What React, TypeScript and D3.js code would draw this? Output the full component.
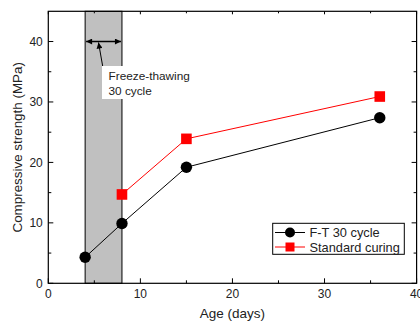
import React from "react";
import * as d3 from "d3";

const ftAge = [4, 8, 15, 36];
const ftStrength = [4.3, 9.9, 19.2, 27.4];
const stdAge = [8, 15, 36];
const stdStrength = [14.7, 23.9, 30.9];
const xTicks = [0, 10, 20, 30, 40];
const yTicks = [0, 10, 20, 30, 40];
const xMinor = [5, 15, 25, 35];
const yMinor = [5, 15, 25, 35];
const shadeRange = [4, 8];
const annotY = 40;
const seriesNames = ["F-T 30 cycle", "Standard curing"];
const annotLines = ["Freeze-thawing", "30 cycle"];

export default function App() {
  const W = 420, H = 321;
  const L = 48.3, R = 416.6, T = 11.3, B = 283.3;
  const x = d3.scaleLinear().domain([0, 40]).range([L, R]);
  const y = d3.scaleLinear().domain([0, 45]).range([B, T]);
  const line = d3.line<[number, number]>().x(d => x(d[0])).y(d => y(d[1]));
  const ft: [number, number][] = ftAge.map((a, i) => [a, ftStrength[i]]);
  const sd: [number, number][] = stdAge.map((a, i) => [a, stdStrength[i]]);
  const font = "Liberation Sans, Arial, sans-serif";
  const ay = y(annotY);
  const x0 = x(shadeRange[0]), x1 = x(shadeRange[1]);
  return (
    <svg width={W} height={H} style={{ position: "absolute", left: 0, top: 0 }} fontFamily={font}>
      <defs>
        <marker id="ah" viewBox="0 0 10 10" refX="10" refY="5" markerWidth="7" markerHeight="6" orient="auto-start-reverse" markerUnits="userSpaceOnUse">
          <path d="M0,0 L10,5 L0,10 z" fill="#000" />
        </marker>
      </defs>
      <rect x={0} y={0} width={W} height={H} fill="#fff" />
      <rect x={x0} y={T} width={x1 - x0} height={B - T} fill="#c0c0c0" stroke="#000" strokeWidth={1} />
      {/* double arrow */}
      <line x1={x0 + 1} x2={x1 - 1} y1={ay} y2={ay} stroke="#000" strokeWidth={1.5} markerStart="url(#ah)" markerEnd="url(#ah)" />
      <line x1={103} y1={68} x2={98.5} y2={ay + 1} stroke="#000" strokeWidth={1} markerEnd="url(#ah)" />
      <rect x={102} y={66} width={72} height={33} fill="#fff" />
      {annotLines.map((t, i) => (
        <text key={t} x={108.5} y={80 + i * 14.5} fontSize={11.8} fill="#222">{t}</text>
      ))}
      {/* frame */}
      <rect x={L} y={T} width={R - L} height={B - T} fill="none" stroke="#000" strokeWidth={1.2} />
      {/* x ticks */}
      {xTicks.map(v => (
        <g key={"x" + v}>
          <line x1={x(v)} x2={x(v)} y1={B} y2={B - 5} stroke="#000" />
          <line x1={x(v)} x2={x(v)} y1={T} y2={T + 3} stroke="#000" />
          <text x={x(v)} y={B + 15} fontSize={12} textAnchor="middle" fill="#222">{v}</text>
        </g>
      ))}
      {xMinor.map(v => (
        <g key={"xm" + v}>
          <line x1={x(v)} x2={x(v)} y1={B} y2={B - 3} stroke="#000" />
          <line x1={x(v)} x2={x(v)} y1={T} y2={T + 2} stroke="#000" />
        </g>
      ))}
      {yTicks.map(v => (
        <g key={"y" + v}>
          <line x1={L} x2={L + 5} y1={y(v)} y2={y(v)} stroke="#000" />
          <line x1={R} x2={R - 5} y1={y(v)} y2={y(v)} stroke="#000" />
          <text x={L - 5.5} y={y(v) + 4.5} fontSize={12} textAnchor="end" fill="#222">{v}</text>
        </g>
      ))}
      {yMinor.map(v => (
        <g key={"ym" + v}>
          <line x1={L} x2={L + 3} y1={y(v)} y2={y(v)} stroke="#000" />
          <line x1={R} x2={R - 3} y1={y(v)} y2={y(v)} stroke="#000" />
        </g>
      ))}
      {/* series */}
      <path d={line(sd) || ""} fill="none" stroke="#ff0000" strokeWidth={1} />
      <path d={line(ft) || ""} fill="none" stroke="#000" strokeWidth={1} />
      {sd.map((d, i) => (
        <rect key={"s" + i} x={x(d[0]) - 5.3} y={y(d[1]) - 5.3} width={10.6} height={10.6} fill="#ff0000" />
      ))}
      {ft.map((d, i) => (
        <circle key={"f" + i} cx={x(d[0])} cy={y(d[1])} r={5.7} fill="#000" />
      ))}
      {/* legend */}
      <rect x={272.7} y={223.3} width={131.6} height={31} fill="#fff" stroke="#000" strokeWidth={1} />
      <line x1={275} x2={305} y1={232.5} y2={232.5} stroke="#000" />
      <circle cx={290} cy={232.5} r={5} fill="#000" />
      <line x1={275} x2={305} y1={247} y2={247} stroke="#ff0000" />
      <rect x={285.5} y={242.5} width={9} height={9} fill="#ff0000" />
      <text x={309.5} y={237} fontSize={12.8} fill="#222">{seriesNames[0]}</text>
      <text x={309.5} y={251.5} fontSize={12.8} fill="#222">{seriesNames[1]}</text>
      {/* axis labels */}
      <text x={(L + R) / 2} y={318} fontSize={13.5} textAnchor="middle" fill="#222">Age (days)</text>
      <text transform={`translate(22,${(T + B) / 2}) rotate(-90)`} fontSize={13.4} textAnchor="middle" fill="#222">Compressive strength (MPa)</text>
    </svg>
  );
}
